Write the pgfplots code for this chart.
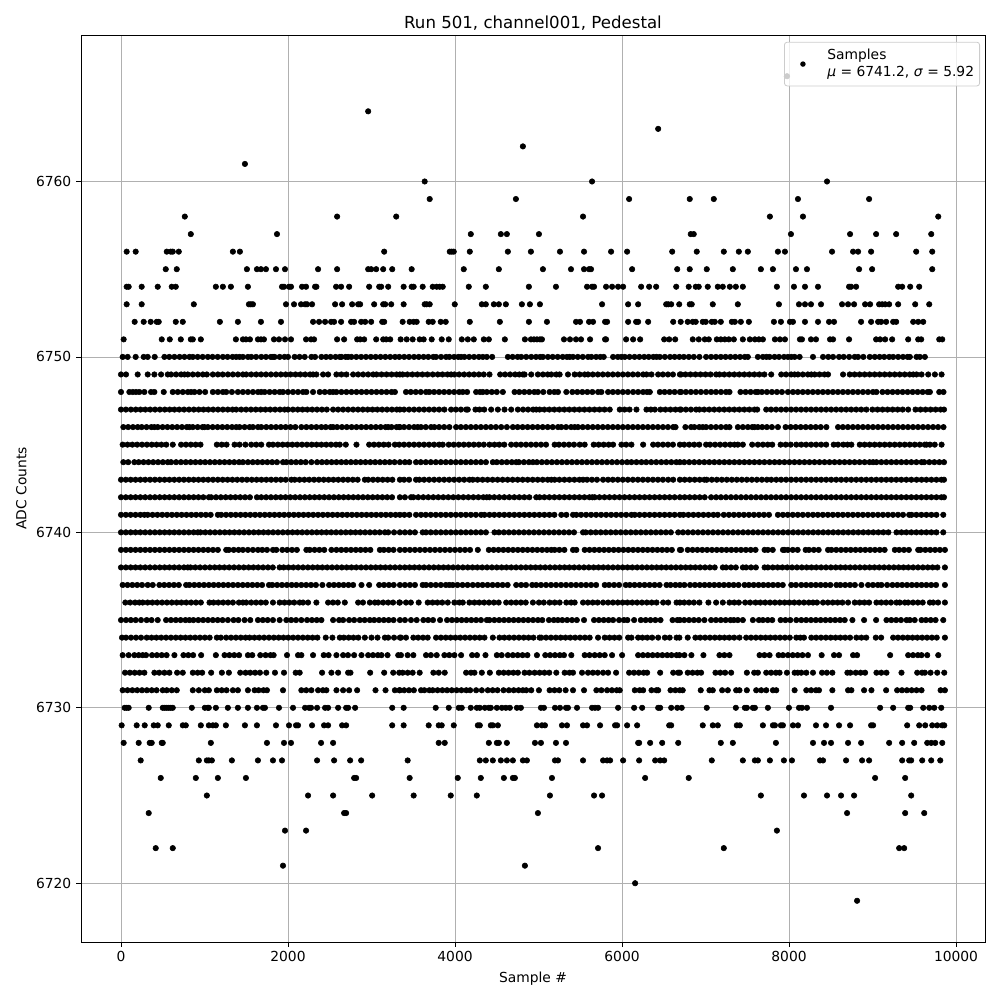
\documentclass[border=0pt]{standalone}
\usepackage{fontspec}
\setmainfont{DejaVu Sans}
\usepackage{pgfplots}
\pgfplotsset{compat=1.18}
\gdef\allc{}
\newcommand\row[2]{\foreach \x in {#2}{\xdef\allc{\allc(\x,#1)}}}
% sample positions, one list per ADC count
\row{6766}{7976}
\row{6764}{2960}
\row{6763}{6433}
\row{6762}{4813}
\row{6761}{1484}
\row{6760}{3637,5641,8455}
\row{6759}{3697,4729,6085,6811,7099,8107,8959}
\row{6758}{764,2588,3296,5533,7771,8167,9787}
\row{6757}{836,1868,4189,4549,4621,5005,6823,6859,8023,8731,9043,9283,9703}
\row{6756}{68,176,548,596,620,692,1340,1424,3152,3937,3961,3985,4177,4633,4909,5257,5545,5869,6061,6601,6895,7219,7399,7507,7867,7951,8515,8767,8827,8983,9523,9715}
\row{6755}{536,668,1508,1628,1676,1736,1856,1964,2360,2588,2960,2996,3056,3140,3248,3481,4105,4525,5053,5389,5545,5605,5629,6121,6661,6811,7015,7327,7663,7807,8083,8215,8839,8995,9715}
\row{6754}{68,92,248,440,608,656,1136,1220,1316,1520,1928,1952,2012,2036,2168,2216,2324,2340,2576,2636,2732,2972,3092,3116,3200,3385,3481,3505,3613,3733,3781,3817,3853,4165,4369,4885,5209,5581,5641,5665,5809,5881,5953,6013,6229,6325,6409,6649,6799,6883,6919,7027,7147,7207,7291,7363,7447,7855,8059,8191,8347,8719,8743,8803,9307,9355,9451,9559}
\row{6753}{68,248,872,1532,1556,1580,1976,2072,2156,2204,2228,2288,2564,2648,2768,2840,2864,3032,3140,3164,3236,3385,3637,3661,3697,3997,4321,4369,4465,4525,4609,4801,4897,5017,5761,6073,6193,6529,6553,6589,6685,6811,6835,7087,7387,7879,8119,8191,8263,8383,8635,8707,8779,8911,8971,9079,9115,9151,9199,9307,9511,9679}
\row{6752}{164,272,356,428,452,656,740,1184,1400,1676,1916,2300,2372,2444,2516,2552,2636,2756,2792,2876,2924,2996,3128,3152,3373,3457,3505,3541,3685,3733,3829,3889,4177,4537,4885,5101,5449,5497,5605,5653,5797,5821,6073,6169,6193,6313,6613,6703,6787,6847,6883,6967,7003,7075,7111,7183,7315,7351,7423,7519,7819,7903,8011,8047,8191,8347,8479,8539,8863,8983,9067,9103,9163,9247,9283,9487,9547,9607}
\row{6751}{32,488,584,716,836,860,956,1376,1460,1496,1544,1640,1676,1712,1832,1892,1964,2036,2216,2276,2312,2588,2672,2828,2864,2912,3056,3140,3176,3224,3349,3421,3493,3577,3625,3721,3841,3925,4081,4153,4225,4345,4405,4597,4837,4909,4945,4981,5017,5041,5305,5377,5449,5509,5617,5797,5809,6049,6133,6217,6505,6565,6637,6847,6919,6991,7039,7135,7183,7231,7279,7339,7447,7531,7591,7639,7687,7831,7891,7951,8131,8155,8263,8323,8491,8527,8719,9043,9091,9151,9235,9427,9547,9583,9799,9835}
\row{6750}{20,80,176,272,320,404,520,578,640,702,760,820,860,918,978,1040,1096,1158,1220,1276,1336,1380,1420,1460,1520,1560,1618,1680,1736,1794,1820,1840,1900,1958,2000,2080,2138,2200,2280,2324,2400,2456,2510,2570,2620,2640,2690,2720,2760,2818,2876,2934,2992,3050,3108,3166,3224,3282,3333,3392,3450,3510,3566,3624,3680,3740,3773,3833,3893,3933,3990,4040,4073,4113,4170,4228,4286,4333,4381,4445,4633,4690,4750,4793,4853,4913,4970,5020,5053,5113,5170,5230,5290,5340,5373,5413,5470,5530,5593,5633,5690,5740,5781,5893,5950,5993,6033,6090,6150,6208,6266,6320,6375,6413,6453,6513,6575,6630,6687,6740,6800,6860,6927,7007,7067,7125,7183,7240,7298,7356,7414,7470,7507,7627,7687,7730,7767,7827,7880,7940,7987,8027,8067,8127,8287,8407,8470,8527,8599,8655,8720,8787,8827,8890,8967,9027,9085,9140,9200,9247,9307,9365,9420,9447,9527,9567,9627}
\row{6749}{0,60,200,320,400,480,560,600,660,720,760,800,860,920,980,1028,1100,1160,1218,1280,1340,1400,1460,1500,1560,1620,1678,1736,1796,1856,1914,1972,2030,2090,2148,2206,2264,2300,2340,2420,2480,2580,2640,2700,2780,2840,2900,2960,3020,3060,3120,3180,3240,3300,3340,3373,3430,3490,3550,3610,3670,3733,3793,3850,3910,3953,3993,4050,4110,4170,4228,4286,4344,4413,4541,4600,4660,4720,4770,4813,4833,4913,4993,5053,5110,5153,5213,5253,5353,5433,5493,5553,5593,5650,5710,5770,5830,5890,5950,6010,6070,6130,6190,6253,6293,6353,6433,6490,6550,6610,6693,6707,6760,6820,6880,6940,7000,7060,7127,7167,7225,7285,7345,7405,7465,7525,7585,7645,7705,7787,7907,7965,8025,8067,8107,8165,8225,8267,8307,8365,8425,8467,8647,8727,8785,8845,8905,8965,9025,9085,9145,9205,9265,9325,9385,9445,9487,9527,9587,9667,9747,9827}
\row{6748}{0,100,140,180,220,280,360,400,512,620,680,740,800,840,880,940,1008,1100,1160,1220,1260,1328,1400,1460,1520,1580,1640,1680,1720,1780,1840,1900,1940,2000,2060,2120,2180,2220,2300,2380,2440,2500,2540,2580,2640,2700,2760,2820,2880,2940,3000,3060,3120,3180,3240,3280,3413,3470,3530,3590,3653,3693,3750,3810,3870,3930,3990,4050,4093,4145,4253,4300,4333,4381,4440,4500,4573,4713,4770,4830,4890,4950,4993,5057,5133,5190,5233,5333,5405,5465,5525,5585,5645,5713,5753,5833,5890,5950,6010,6070,6133,6193,6253,6300,6333,6453,6510,6570,6630,6693,6707,6765,6825,6885,6945,7007,7067,7125,7185,7245,7287,7419,7480,7540,7600,7627,7675,7735,7795,7855,7915,7987,8047,8105,8165,8225,8285,8345,8405,8465,8525,8585,8645,8705,8765,8825,8885,8945,9005,9047,9119,9180,9240,9300,9360,9420,9480,9540,9600,9660,9687,9799,9850}
\row{6747}{0,58,118,176,234,292,350,408,466,524,582,640,698,756,814,872,930,988,1046,1104,1162,1220,1278,1336,1380,1440,1498,1556,1614,1672,1730,1788,1846,1904,1960,2000,2058,2116,2174,2232,2290,2348,2406,2464,2540,2600,2660,2720,2780,2838,2896,2954,3012,3070,3128,3186,3244,3302,3340,3390,3450,3510,3570,3630,3690,3750,3810,3873,3953,4010,4070,4133,4153,4245,4293,4350,4433,4513,4593,4673,4753,4815,4875,4935,4973,5013,5070,5130,5190,5250,5310,5370,5430,5490,5550,5610,5670,5730,5790,5853,5973,6030,6090,6173,6293,6345,6393,6461,6520,6580,6640,6693,6707,6765,6825,6887,6927,6985,7045,7105,7165,7225,7285,7345,7405,7465,7525,7587,7619,7727,7785,7845,7905,7965,8025,8085,8145,8205,8265,8325,8385,8445,8505,8565,8625,8685,8745,8805,8865,8927,8999,9060,9120,9180,9240,9300,9360,9427,9515,9575,9635,9695,9755,9815,9856}
\row{6746}{28,86,144,200,248,306,364,400,440,498,556,614,672,730,788,820,860,918,976,1000,1040,1098,1156,1214,1272,1330,1380,1420,1480,1540,1580,1640,1680,1740,1798,1856,1914,1972,2030,2088,2160,2220,2280,2340,2400,2452,2510,2540,2588,2646,2704,2762,2820,2878,2936,2994,3052,3110,3168,3200,3240,3300,3340,3333,3390,3450,3510,3553,3593,3650,3713,3753,3810,3870,3933,4013,4070,4130,4190,4250,4310,4370,4430,4490,4553,4621,4693,4750,4810,4870,4930,4990,5050,5110,5170,5233,5273,5330,5390,5433,5473,5530,5590,5650,5710,5770,5830,5890,5950,6010,6070,6130,6190,6250,6310,6370,6430,6490,6550,6613,6641,6759,6827,6867,6925,6967,7007,7065,7125,7185,7245,7287,7387,7447,7507,7560,7587,7627,7679,7735,7795,7867,7959,8020,8080,8140,8200,8260,8320,8380,8447,8587,8645,8705,8765,8825,8885,8945,9005,9065,9125,9185,9245,9305,9365,9425,9485,9545,9605,9665,9725,9785,9850}
\row{6745}{20,78,136,194,252,310,368,426,484,542,620,720,778,836,894,952,1148,1206,1264,1360,1420,1490,1560,1620,1680,1772,1820,1878,1936,1994,2052,2110,2168,2226,2284,2342,2400,2458,2516,2574,2620,2692,2820,2972,3030,3088,3146,3204,3280,3332,3390,3450,3510,3570,3630,3690,3750,3810,3853,3925,3985,4045,4105,4165,4225,4285,4345,4413,4473,4530,4590,4673,4733,4790,4850,4910,4970,5030,5090,5193,5245,5305,5365,5425,5493,5553,5661,5720,5780,5840,5893,5993,6050,6113,6253,6373,6430,6490,6550,6610,6693,6745,6805,6865,6925,7007,7055,7115,7175,7235,7295,7347,7387,7447,7559,7627,7687,7745,7799,7899,7960,8020,8087,8147,8205,8265,8325,8385,8445,8535,8587,8650,8700,8747,8847,8905,8965,9025,9085,9145,9205,9265,9325,9385,9445,9505,9565,9625,9647,9687,9745,9827}
\row{6744}{28,86,160,212,270,328,386,444,502,560,600,660,718,776,834,892,950,1008,1066,1124,1182,1240,1298,1356,1414,1460,1520,1578,1636,1694,1752,1810,1868,1940,1980,2038,2096,2154,2212,2280,2348,2406,2464,2522,2580,2638,2696,2754,2812,2870,2928,2986,3044,3102,3160,3218,3276,3340,3400,3453,3533,3590,3650,3710,3770,3830,3890,3950,4010,4070,4130,4190,4250,4310,4370,4453,4501,4560,4620,4680,4733,4765,4825,4885,4933,4981,5040,5100,5160,5220,5280,5340,5400,5460,5520,5580,5640,5700,5760,5820,5880,5940,6000,6060,6113,6173,6233,6290,6350,6410,6470,6530,6590,6650,6693,6745,6805,6865,6925,6985,7045,7105,7165,7225,7285,7345,7405,7465,7525,7585,7645,7705,7767,7827,7885,7945,8005,8065,8125,8185,8245,8305,8365,8425,8485,8545,8605,8665,8725,8785,8845,8905,8965,9007,9047,9105,9165,9225,9285,9345,9405,9465,9525,9587,9619,9680,9740,9800,9856}
\row{6743}{0,58,116,174,232,290,348,406,464,522,580,638,696,754,812,870,928,986,1044,1102,1160,1218,1276,1334,1392,1450,1508,1566,1624,1682,1740,1798,1856,1914,1972,2040,2080,2138,2196,2254,2312,2370,2428,2486,2544,2602,2660,2718,2776,2834,2920,2960,3018,3076,3134,3192,3250,3340,3390,3450,3533,3573,3630,3690,3750,3810,3870,3930,3990,4050,4110,4173,4213,4270,4330,4390,4450,4510,4570,4630,4690,4750,4810,4870,4930,4990,5050,5110,5153,5193,5250,5310,5370,5430,5490,5533,5581,5640,5700,5773,5833,5890,5950,6010,6070,6130,6190,6250,6310,6370,6430,6490,6553,6613,6693,6750,6810,6870,6930,6987,7015,7075,7135,7195,7255,7315,7375,7435,7495,7555,7615,7675,7735,7787,7847,7905,7965,8025,8085,8145,8205,8265,8325,8385,8445,8505,8565,8625,8685,8745,8805,8865,8925,8985,9045,9105,9165,9225,9285,9345,9405,9465,9527,9587,9645,9705,9765,9825,9856}
\row{6742}{0,58,116,174,232,290,348,406,464,522,580,638,696,754,812,870,928,986,1052,1080,1138,1196,1254,1312,1370,1428,1486,1544,1628,1680,1738,1796,1854,1912,1970,2028,2086,2144,2202,2260,2318,2376,2434,2492,2550,2608,2666,2724,2782,2840,2898,2956,3014,3072,3130,3188,3246,3340,3400,3473,3501,3560,3620,3680,3740,3800,3860,3920,3980,4040,4100,4160,4220,4280,4340,4381,4413,4470,4530,4590,4650,4710,4770,4830,4890,4973,5013,5070,5130,5190,5250,5310,5370,5430,5490,5550,5610,5645,5673,5730,5790,5850,5910,5970,6030,6090,6150,6210,6270,6330,6390,6450,6510,6570,6630,6693,6750,6810,6870,6930,6990,7067,7127,7185,7245,7305,7365,7425,7485,7545,7605,7665,7725,7785,7845,7905,7965,8025,8085,8145,8205,8265,8325,8385,8445,8505,8565,8625,8685,8745,8805,8865,8925,8985,9045,9105,9165,9225,9285,9345,9405,9465,9525,9585,9645,9705,9765,9825,9856}
\row{6741}{0,58,116,174,232,280,320,378,436,494,552,610,668,726,784,842,900,958,1016,1074,1160,1200,1258,1316,1374,1432,1490,1548,1606,1664,1722,1780,1838,1896,1954,2012,2070,2128,2186,2244,2302,2360,2418,2476,2534,2592,2650,2708,2766,2824,2882,2940,2998,3056,3114,3172,3230,3288,3340,3393,3453,3533,3593,3650,3710,3770,3830,3890,3950,4010,4070,4130,4190,4250,4313,4353,4413,4470,4530,4590,4650,4710,4770,4830,4890,4950,5010,5070,5130,5190,5273,5333,5413,5453,5510,5570,5630,5690,5750,5810,5870,5930,5990,6050,6113,6153,6210,6270,6330,6390,6450,6510,6570,6630,6693,6735,6795,6855,6915,6975,7035,7095,7147,7219,7280,7340,7400,7460,7520,7580,7640,7700,7760,7867,7927,7985,8045,8105,8165,8227,8287,8345,8405,8465,8525,8585,8645,8705,8765,8825,8885,8945,9005,9065,9125,9185,9245,9305,9365,9439,9467,9525,9585,9645,9705,9765,9847}
\row{6740}{0,58,116,174,232,290,348,406,464,522,580,638,696,754,812,870,920,952,1010,1068,1126,1184,1242,1300,1358,1416,1474,1532,1590,1648,1706,1764,1822,1880,1938,1996,2054,2112,2170,2228,2286,2344,2402,2460,2518,2576,2634,2692,2750,2808,2866,2924,2982,3040,3098,3160,3200,3270,3340,3400,3460,3520,3613,3653,3710,3770,3830,3890,3950,4010,4070,4130,4190,4250,4310,4370,4473,4525,4585,4645,4705,4765,4825,4885,4945,5005,5065,5125,5185,5245,5305,5365,5425,5533,5565,5625,5685,5745,5805,5865,5925,5985,6045,6105,6165,6225,6285,6345,6405,6465,6525,6585,6673,6730,6790,6850,6910,6970,7030,7090,7150,7210,7270,7330,7390,7450,7510,7570,7630,7690,7750,7810,7870,7930,7990,8050,8110,8170,8230,8290,8350,8410,8470,8530,8590,8650,8710,8770,8830,8890,8950,9010,9070,9130,9190,9287,9347,9405,9465,9525,9585,9645,9705,9765,9847}
\row{6739}{0,58,116,174,232,290,348,406,464,522,580,638,696,754,812,870,928,986,1044,1102,1160,1260,1292,1350,1408,1460,1520,1580,1640,1692,1748,1820,1860,1932,1990,2048,2106,2220,2260,2318,2376,2434,2520,2580,2638,2696,2754,2812,2870,2928,2986,3100,3148,3206,3264,3340,3400,3460,3520,3580,3640,3700,3760,3820,3880,3940,4000,4060,4120,4180,4273,4405,4463,4521,4579,4637,4695,4753,4811,4869,4927,4985,5043,5101,5153,5193,5250,5310,5413,5453,5553,5611,5669,5727,5785,5843,5901,5959,6017,6075,6133,6191,6249,6307,6365,6423,6481,6539,6597,6693,6707,6787,6845,6903,6961,7019,7077,7135,7193,7251,7309,7367,7425,7483,7541,7599,7707,7747,7805,7927,7947,7987,8045,8103,8199,8239,8297,8355,8467,8507,8565,8623,8681,8739,8797,8855,8913,8971,9029,9087,9145,9267,9319,9377,9435,9547,9575,9633,9691,9749,9807,9867}
\row{6738}{0,58,116,174,232,290,348,406,464,522,580,638,696,754,800,832,890,948,1006,1064,1122,1180,1238,1296,1354,1412,1470,1528,1586,1644,1702,1760,1818,1900,1948,2006,2064,2122,2180,2238,2296,2354,2412,2470,2528,2586,2644,2702,2760,2818,2876,2934,2992,3050,3108,3166,3224,3282,3340,3398,3456,3514,3572,3630,3688,3746,3804,3862,3920,3978,4036,4094,4152,4210,4268,4326,4384,4442,4500,4558,4616,4674,4732,4790,4848,4906,4964,5022,5080,5138,5196,5254,5312,5370,5428,5486,5544,5602,5660,5718,5776,5834,5892,5950,6008,6066,6124,6182,6240,6298,6356,6414,6472,6530,6588,6646,6704,6762,6820,6878,6936,6994,7052,7110,7207,7247,7305,7363,7447,7487,7545,7603,7707,7747,7805,7863,7921,7979,8037,8095,8153,8211,8269,8327,8385,8443,8501,8559,8617,8675,8733,8791,8849,8907,8965,9023,9081,9139,9197,9255,9313,9371,9429,9487,9545,9603,9661,9719,9777,9867}
\row{6737}{20,78,136,194,252,320,380,460,518,576,634,692,780,820,878,936,994,1052,1110,1168,1226,1284,1342,1400,1458,1516,1574,1632,1690,1772,1812,1870,1928,1986,2044,2100,2160,2218,2276,2334,2412,2492,2550,2608,2666,2724,2780,2880,2972,3092,3150,3208,3266,3340,3400,3460,3520,3613,3653,3710,3770,3830,3890,3933,3973,4030,4090,4150,4213,4273,4330,4390,4450,4510,4570,4630,4733,4793,4850,4925,4973,5030,5090,5150,5210,5270,5330,5390,5450,5510,5570,5630,5690,5793,5845,5905,5965,6045,6093,6150,6210,6270,6330,6390,6450,6533,6581,6640,6693,6747,6815,6873,6931,6989,7047,7105,7163,7221,7279,7337,7395,7467,7519,7577,7635,7693,7751,7809,7867,7925,8027,8083,8147,8205,8263,8321,8379,8437,8495,8567,8615,8673,8731,8789,8867,8947,9005,9063,9107,9175,9239,9297,9355,9413,9471,9529,9587,9645,9703,9761,9867}
\row{6736}{52,110,168,220,260,318,376,434,492,550,608,666,724,782,840,898,956,1060,1108,1166,1224,1282,1340,1412,1460,1500,1560,1618,1676,1734,1820,1900,1958,2016,2074,2140,2180,2240,2340,2480,2538,2596,2680,2840,2898,2980,3040,3080,3140,3200,3258,3340,3333,3413,3471,3565,3673,3731,3789,3847,3913,3993,4053,4093,4173,4233,4291,4349,4407,4465,4523,4613,4673,4731,4789,4847,4933,5005,5063,5133,5193,5253,5333,5391,5433,5533,5591,5649,5707,5773,5833,5891,5949,6007,6065,6123,6181,6239,6297,6355,6413,6493,6553,6653,6693,6745,6803,6861,6927,7035,7127,7207,7287,7345,7399,7475,7535,7599,7657,7715,7773,7831,7889,7947,8005,8063,8121,8179,8237,8287,8335,8407,8465,8523,8581,8639,8707,8787,8845,8903,8959,9047,9105,9163,9221,9287,9327,9387,9427,9485,9543,9601,9687,9727,9785,9867}
\row{6735}{0,60,118,176,240,308,366,440,540,598,656,714,772,820,868,926,984,1042,1100,1158,1216,1280,1348,1406,1480,1548,1640,1698,1756,1820,1900,1980,2038,2096,2160,2228,2286,2344,2400,2540,2612,2660,2732,2792,2860,2918,2980,3032,3090,3148,3206,3264,3340,3400,3473,3541,3621,3679,3737,3821,3905,3963,4021,4079,4137,4195,4253,4311,4381,4413,4471,4529,4587,4645,4703,4761,4819,4877,4935,4993,5045,5125,5183,5233,5285,5343,5401,5459,5545,5665,5723,5781,5839,5893,5965,6023,6065,6145,6225,6283,6341,6399,6461,6605,6663,6693,6745,6803,6861,6919,6987,7067,7125,7183,7241,7299,7339,7387,7447,7567,7639,7687,7745,7799,7899,7957,8015,8087,8147,8205,8263,8321,8379,8437,8495,8553,8611,8667,8759,8899,9043,9167,9225,9283,9341,9407,9447,9505,9587,9639,9697,9755,9847}
\row{6734}{12,60,120,180,240,308,366,424,482,540,598,656,714,772,830,888,946,1004,1062,1148,1196,1260,1318,1376,1434,1492,1540,1598,1656,1714,1772,1830,1888,1946,2004,2062,2120,2178,2236,2294,2352,2452,2532,2620,2668,2726,2784,2842,2920,3000,3072,3160,3200,3270,3340,3353,3413,3501,3559,3617,3673,3773,3831,3889,3947,4005,4063,4121,4179,4237,4295,4353,4453,4533,4591,4649,4707,4765,4823,4881,4939,5013,5033,5091,5149,5207,5265,5323,5381,5439,5497,5555,5613,5713,5793,5851,5909,5967,6073,6113,6193,6245,6303,6361,6433,6513,6571,6653,6687,6787,6879,6937,6995,7053,7111,7169,7227,7285,7343,7407,7487,7545,7603,7661,7719,7777,7835,7893,7951,8009,8087,8135,8179,8267,8325,8383,8441,8499,8557,8615,8673,8731,8807,8867,8925,9039,9103,9247,9305,9363,9421,9479,9537,9595,9653,9711,9769,9867}
\row{6733}{20,92,160,212,260,300,372,430,488,546,640,748,806,864,960,1136,1240,1298,1356,1414,1520,1572,1668,1732,1790,1828,1988,2120,2160,2300,2428,2486,2580,2660,2718,2792,2880,2960,3018,3076,3120,3192,3320,3353,3433,3501,3653,3711,3781,3873,3931,3993,4073,4205,4263,4365,4501,4559,4633,4693,4751,4809,4867,4981,5081,5139,5197,5255,5305,5393,5553,5611,5673,5733,5793,5881,6001,6193,6251,6309,6367,6425,6483,6541,6593,6653,6687,6747,6831,6975,7167,7225,7287,7647,7705,7767,7875,7927,7987,8045,8103,8161,8227,8391,8539,8599,8767,8815,9211,9427,9485,9543,9587,9655,9787}
\row{6732}{48,106,164,222,280,400,458,520,580,672,740,860,918,972,1080,1208,1292,1428,1492,1548,1606,1664,1740,1844,1952,2092,2140,2408,2520,2600,2720,2748,2984,3152,3260,3332,3373,3433,3493,3577,3741,3805,3877,4133,4191,4233,4321,4417,4525,4583,4641,4699,4753,4833,4891,4953,5013,5071,5129,5213,5313,5371,5413,5521,5593,5651,5709,5773,5833,5929,6085,6143,6201,6259,6301,6457,6613,6671,6693,6787,6845,6903,6947,7119,7177,7235,7307,7495,7583,7627,7727,7785,7843,7887,7975,8067,8105,8147,8207,8287,8395,8453,8519,8699,8735,8799,8857,8911,9047,9105,9167,9347,9535,9593,9627,9695,9775,9859}
\row{6731}{20,78,136,194,252,310,368,426,500,548,608,668,860,932,1004,1052,1148,1206,1264,1340,1400,1520,1600,1648,1706,1748,1940,2160,2218,2280,2360,2418,2460,2580,2660,2732,2828,3048,3168,3280,3340,3333,3391,3449,3507,3593,3633,3693,3733,3791,3849,3905,3961,4019,4077,4135,4181,4253,4321,4393,4451,4509,4581,4645,4703,4761,4813,4853,4913,5005,5133,5191,5249,5325,5413,5545,5693,5753,5821,5879,5937,5973,6153,6211,6253,6353,6411,6433,6581,6639,6693,6727,6943,7047,7087,7199,7267,7367,7407,7495,7607,7667,7727,7807,7847,8067,8207,8265,8323,8359,8519,8707,8747,8899,8987,9163,9295,9353,9411,9469,9527,9587,9815,9867}
\row{6730}{44,68,92,332,500,524,548,572,596,620,848,1004,1040,1052,1136,1280,1400,1520,1628,1700,1724,1892,2060,2204,2252,2276,2348,2444,2480,2600,2696,2720,2804,3248,3385,3769,3925,4045,4081,4189,4261,4297,4357,4405,4429,4501,4561,4609,4657,4741,4789,5029,5065,5197,5257,5329,5353,5461,5641,5677,5713,5953,6145,6241,6433,6457,6589,6661,6715,7015,7363,7471,7495,7567,7591,7747,7999,8119,8155,8215,8503,9091,9247,9427,9451,9607,9679,9739,9823}
\row{6729}{8,188,284,392,440,572,740,776,956,1052,1100,1136,1256,1484,1628,1856,2012,2096,2120,2288,2432,2480,2648,2696,3248,3385,3685,3805,3841,3985,4273,4297,4429,4453,4513,4981,5041,5077,5281,5341,5533,5581,5737,5917,5941,6061,6181,6565,6589,6967,7087,7147,7375,7411,7687,7807,7831,7903,7927,8047,8107,8323,8443,8599,8731,8983,9007,9415,9559,9631,9715,9775,9835,9859}
\row{6728}{32,212,344,368,488,500,1076,1748,1952,2036,2396,2540,3805,3877,4405,4501,4525,4621,4957,5029,5209,5329,6193,6205,6337,6481,6673,7183,7327,7843,8287,8419,8503,8707,8863,9199,9355,9499,9655,9703,9751,9835}
\row{6727}{236,932,1028,1052,1088,1328,1640,1820,1928,2348,2552,2744,2876,3433,4297,4369,4453,4549,4621,4693,4813,4861,5197,5233,5533,5773,5821,5857,6013,6205,6397,6457,6505,7075,7447,7591,7627,7771,7939,8035,8371,8407,8683,8875,8959,9355,9439,9463,9595,9703,9811}
\row{6726}{476,896,1160,1496,2792,2816,3457,4033,4309,4585,4693,4717,5161,6277,6799,9031,9391}
\row{6725}{1028,2240,2540,3008,3505,3949,4261,5137,5665,5761,7663,8179,8455,8623,8779,9463}
\row{6724}{332,2672,2696,4993,8695,9391,9619}
\row{6723}{1964,2216,7855}
\row{6722}{416,620,5713,7219,9319,9379}
\row{6721}{1940,4837}
\row{6720}{6157}
\row{6719}{8815}
\begin{document}
\begin{tikzpicture}
\useasboundingbox (-0.81in,-0.58in) rectangle (9.19in,9.42in);
\edef\plotit{\noexpand\addplot[only marks,mark=*,mark size=1.98pt,black,mark options={draw=none,fill=black}] coordinates {\allc};}
\begin{axis}[
  scale only axis,
  width=9.04in, height=9.07in,
  xmin=-479, xmax=10347,
  ymin=6716.65, ymax=6768.35,
  xtick={0,2000,4000,6000,8000,10000},
  ytick={6720,6730,6740,6750,6760},
  scaled x ticks=false, scaled y ticks=false,
  /pgf/number format/assume math mode=true,
  /pgf/number format/1000 sep={},
  grid=major,
  major grid style={color=black!31,line width=0.6pt},
  axis line style={black,line width=0.6pt},
  tick style={black,line width=0.6pt},
  major tick length=3.5pt,
  tick align=outside,
  xtick pos=bottom, ytick pos=left,
  tick label style={font=\fontsize{10}{12}\selectfont},
  title={Run 501, channel001, Pedestal},
  title style={font=\fontsize{12}{14}\selectfont,at={(0.5,1)},anchor=south,yshift=-6pt},
  xlabel={Sample \#},
  ylabel={ADC Counts},
  label style={font=\fontsize{10}{12}\selectfont},
  legend style={at={(0.9945,0.9925)},anchor=north east,fill=white,fill opacity=0.8,draw opacity=1,text opacity=1,draw=black!20,line width=0.6pt,rounded corners=2pt,font=\fontsize{10}{12}\selectfont,inner xsep=2pt,inner ysep=3pt},
  legend cell align=left,
  legend image code/.code={\path[draw=none,fill=none] (0,0) -- (0.95cm,0);\path[draw=none,fill=black,fill opacity=1] (0.4cm,0) circle (1.98pt);},
]
\plotit
\addlegendentry{\shortstack[l]{Samples\\\textit{μ} = 6741.2, \textit{σ} = 5.92}}
\end{axis}
\end{tikzpicture}
\end{document}
